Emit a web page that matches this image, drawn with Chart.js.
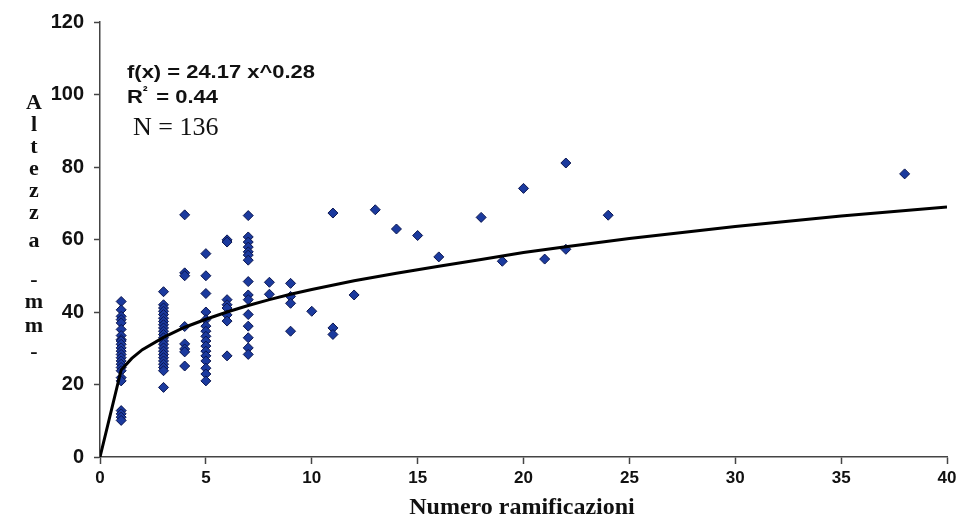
<!DOCTYPE html>
<html>
<head>
<meta charset="utf-8">
<title>Altezza - Numero ramificazioni</title>
<script src="https://cdn.jsdelivr.net/npm/chart.js@4/dist/chart.umd.min.js"></script>
<style>
  body { margin: 0; background: #fff; }
  #grafico { display: block; }
</style>
</head>
<body>
<canvas id="grafico" width="968" height="522"></canvas>
<script>
// numero di ramificazioni (asse x) e altezze lette per ogni colonna
const ramificazioni = [1, 3, 4, 5, 6, 7, 8, 9, 10, 11, 12, 13, 14, 15, 16, 18, 19, 20, 21, 22, 24, 38]
const altezze = [
    [42.9, 40.6, 38.8, 37.9, 37.0, 35.2, 33.5, 32.4, 32.0, 31.1, 30.1, 29.2, 28.3, 27.4, 26.5, 25.6, 24.7, 23.8, 21.9, 21.0, 12.8, 11.9, 11.0, 10.1],
    [45.6, 42.0, 41.1, 40.2, 39.3, 38.3, 37.4, 36.5, 35.6, 34.7, 33.8, 32.9, 32.0, 31.1, 30.1, 29.2, 28.3, 27.4, 26.5, 25.6, 24.7, 23.8, 19.2],
    [66.8, 50.8, 50.0, 36.0, 31.2, 29.8, 29.0, 25.1],
    [56.1, 50.0, 45.1, 40.0, 37.9, 36.1, 34.7, 33.3, 32.0, 30.6, 29.2, 27.9, 26.5, 24.5, 22.9, 21.0],
    [59.9, 59.3, 43.4, 42.0, 41.1, 39.2, 37.5, 27.9],
    [66.6, 60.7, 59.3, 57.9, 56.6, 55.7, 54.3, 48.4, 44.7, 43.4, 39.3, 36.1, 32.9, 30.1, 28.3],
    [48.2, 44.9],
    [47.9, 44.3, 42.4, 34.7],
    [40.2],
    [67.3, 35.6, 33.8],
    [44.7],
    [68.2],
    [62.9],
    [61.1],
    [55.2],
    [66.1],
    [54.0],
    [74.1],
    [54.6],
    [81.1, 57.3],
    [66.7],
    [78.1]
]

// curva di tendenza
const trendX = [0, 1, 1.5, 2, 3, 4, 5, 6, 7, 8, 9, 10, 12, 14, 16, 18, 20, 22, 25, 30, 35, 40]
const trendY = [0, 24.0, 27.2, 29.6, 33.0, 35.8, 38.0, 40.0, 41.8, 43.4, 44.9, 46.2, 48.6, 50.7, 52.6, 54.5, 56.4, 58.0, 60.3, 63.6, 66.5, 69.0]

const xTicks = [0, 5, 10, 15, 20, 25, 30, 35, 40]
const yTicks = [0, 20, 40, 60, 80, 100, 120]

const titoloY = ['A', 'l', 't', 'e', 'z', 'z', 'a', '-', 'm', 'm', '-']
const titoloX = 'Numero ramificazioni'
const equazione = 'f(x) = 24.17 x^0.28'
const r2 = ['R', '²', ' = 0.44']
const numero = 'N = 136'

const punti = []
ramificazioni.forEach((x, i) => {
    altezze[i].forEach(y => punti.push({ x: x, y: y }))
})
const curva = trendX.map((x, i) => ({ x: x, y: trendY[i] }))

const testi = {
    id: 'testi',
    afterDraw(chart) {
        const ctx = chart.ctx
        ctx.save()
        ctx.fillStyle = '#111'
        ctx.textBaseline = 'middle'

        // titolo asse y, lettere una sotto l'altra
        ctx.textAlign = 'center'
        ctx.font = 'bold 22px "Liberation Serif"'
        const posY = [103, 125, 147, 169, 191, 213, 241, 280, 302, 326, 352]
        titoloY.forEach((c, i) => ctx.fillText(c, 34, posY[i]))

        // titolo asse x
        ctx.font = 'bold 24px "Liberation Serif"'
        ctx.fillText(titoloX, 522, 508)

        // equazione e R2, testo un po' allargato come nell'originale
        ctx.textAlign = 'left'
        ctx.save()
        ctx.translate(127, 0)
        ctx.scale(1.22, 1)
        ctx.font = 'bold 18px "Liberation Sans"'
        ctx.fillText(equazione, 0, 73)
        ctx.fillText(r2[0], 0, 98)
        const wR = ctx.measureText(r2[0]).width
        ctx.font = 'bold 12px "Liberation Sans"'
        ctx.fillText(r2[1], wR, 92)
        ctx.font = 'bold 18px "Liberation Sans"'
        ctx.fillText(r2[2], wR + 6, 98)
        ctx.restore()

        ctx.font = '26px "Liberation Serif"'
        ctx.fillText(numero, 133, 128)
        ctx.restore()
    }
}

const divGrafico = document.querySelector('#grafico')
new Chart(divGrafico, {
    type: 'scatter',
    data: {
        datasets: [{
            type: 'line',
            data: curva,
            borderColor: '#000',
            borderWidth: 3,
            pointRadius: 0,
            tension: 0,
            fill: false,
            order: 0
        }, {
            data: punti,
            pointStyle: 'rectRot',
            pointRadius: 5,
            backgroundColor: '#1b3a9e',
            borderColor: '#0b1650',
            borderWidth: 1,
            order: 1
        }]
    },
    options: {
        responsive: false,
        animation: false,
        layout: { padding: { top: 19, right: 21, left: 0, bottom: 0 } },
        plugins: {
            legend: { display: false },
            tooltip: { enabled: false }
        },
        scales: {
            x: {
                type: 'linear',
                min: 0,
                max: 40,
                afterBuildTicks: s => { s.ticks = xTicks.map(v => ({ value: v })) },
                afterFit: s => { s.height = 65 },
                ticks: {
                    color: '#111',
                    padding: 4,
                    font: { family: 'Liberation Sans', size: 17, weight: 'bold' }
                },
                grid: { drawOnChartArea: false, tickLength: 7, color: '#444', tickWidth: 1.5 },
                border: { color: '#444', width: 1.5 }
            },
            y: {
                min: 0,
                max: 120,
                afterBuildTicks: s => { s.ticks = yTicks.map(v => ({ value: v })) },
                afterFit: s => { s.width = 100 },
                ticks: {
                    color: '#111',
                    padding: 10,
                    font: { family: 'Liberation Sans', size: 20, weight: 'bold' }
                },
                grid: { drawOnChartArea: false, tickLength: 6, color: '#444', tickWidth: 1.5 },
                border: { color: '#444', width: 1.5 }
            }
        }
    },
    plugins: [testi]
})
</script>
</body>
</html>
